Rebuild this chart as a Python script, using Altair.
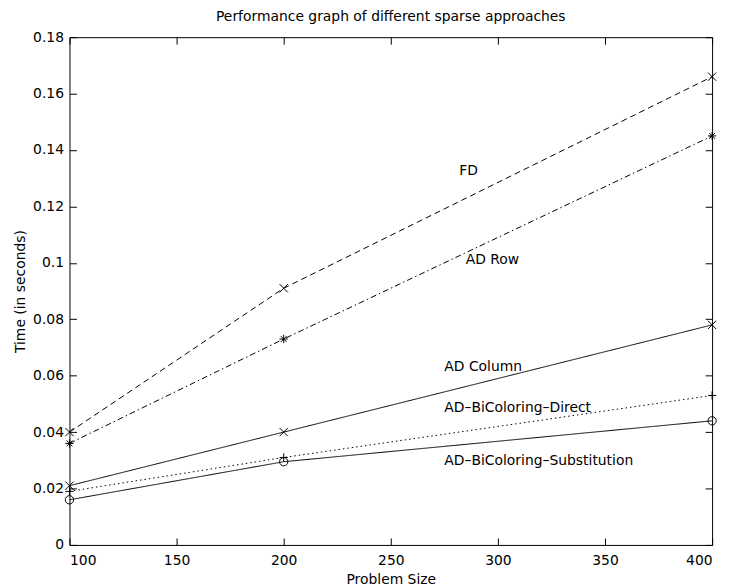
import altair as alt
import pandas as pd

# ---- data ----
sizes = [100, 200, 400]
series_names = ["FD", "AD Row", "AD Column", "AD-BiColoring-Direct", "AD-BiColoring-Substitution"]
fd = [0.040, 0.091, 0.166]
ad_row = [0.036, 0.073, 0.145]
ad_col = [0.021, 0.040, 0.078]
bic_direct = [0.019, 0.031, 0.053]
bic_subst = [0.016, 0.0295, 0.044]

label_texts = ["FD", "AD Row", "AD Column", "AD\u2013BiColoring\u2013Direct", "AD\u2013BiColoring\u2013Substitution"]
label_x = [282, 285, 275, 275, 275]
label_y = [0.1325, 0.101, 0.063, 0.0485, 0.0299]

x_ticks = [100, 150, 200, 250, 300, 350, 400]
y_ticks = [0, 0.02, 0.04, 0.06, 0.08, 0.10, 0.12, 0.14, 0.16, 0.18]

dashes = [[6, 4], [6, 3, 1.5, 3], [1, 0], [1.5, 3], [1, 0]]
shapes = [
    "M-1,-1L1,1M-1,1L1,-1",
    "M-1,0L1,0M0,-1L0,1M-0.7,-0.7L0.7,0.7M-0.7,0.7L0.7,-0.7",
    "M-1,-1L1,1M-1,1L1,-1",
    "M-1,0L1,0M0,-1L0,1",
    "circle",
]

rows = []
for name, vals in zip(series_names, [fd, ad_row, ad_col, bic_direct, bic_subst]):
    for s, v in zip(sizes, vals):
        rows.append({"series": name, "size": s, "time": v})
df = pd.DataFrame(rows)
labels_df = pd.DataFrame({"text": label_texts, "size": label_x, "time": label_y})

W, H = 648, 512
FONT = "DejaVu Sans"

xscale = alt.Scale(domain=[100, 400], nice=False, zero=False)
yscale = alt.Scale(domain=[0, 0.18], nice=False, zero=True)

common = dict(labelFont=FONT, labelFontSize=14, labelColor="black",
              titleFont=FONT, titleFontSize=14, titleFontWeight="normal", titleColor="black",
              tickColor="black", tickWidth=1, domain=False, grid=False, zindex=2)

# axes carrying labels and titles (no ticks)
x_main = alt.Axis(orient="bottom", values=x_ticks, ticks=False,
                  labelPadding=9, title="Problem Size", titlePadding=5, **common)
y_main = alt.Axis(orient="left", values=y_ticks, ticks=False,
                  format="~g", labelPadding=6, title="Time (in seconds)", titlePadding=5, **common)
# inward ticks on bottom / left edges
x_in_bottom = alt.Axis(orient="top", offset=-H, values=x_ticks, labels=False,
                       tickSize=7, title="", **common)
y_in_left = alt.Axis(orient="right", offset=-W, values=y_ticks, labels=False,
                     tickSize=7, title="", **common)
# inward ticks on top / right edges
x_in_top = alt.Axis(orient="bottom", offset=-H, values=x_ticks, labels=False,
                    tickSize=7, title="", **common)
y_in_right = alt.Axis(orient="left", offset=-W, values=y_ticks, labels=False,
                      tickSize=7, title="", **common)

lines = alt.Chart(df).mark_line(color="black", strokeWidth=1).encode(
    x=alt.X("size:Q", scale=xscale, axis=x_main),
    y=alt.Y("time:Q", scale=yscale, axis=y_main),
    strokeDash=alt.StrokeDash("series:N", scale=alt.Scale(domain=series_names, range=dashes), legend=None),
    detail="series:N",
)

points = alt.Chart(df).mark_point(color="black", filled=False, strokeWidth=1, opacity=1).encode(
    x=alt.X("size:Q", scale=xscale, axis=x_in_bottom),
    y=alt.Y("time:Q", scale=yscale, axis=y_in_left),
    shape=alt.Shape("series:N", scale=alt.Scale(domain=series_names, range=shapes), legend=None),
    size=alt.value(70),
)

texts = alt.Chart(labels_df).mark_text(align="left", baseline="middle", font=FONT,
                                        fontSize=14, color="black").encode(
    x=alt.X("size:Q", scale=xscale, axis=x_in_top),
    y=alt.Y("time:Q", scale=yscale, axis=y_in_right),
    text="text:N",
)

chart = alt.layer(lines, points, texts).resolve_axis(
    x="independent", y="independent"
).properties(
    width=W, height=H, background="white",
    padding={"left": 5, "right": 5, "top": 0, "bottom": 0},
    title=alt.TitleParams("Performance graph of different sparse approaches",
                          font=FONT, fontSize=14, fontWeight="normal", color="black", offset=6),
).configure_view(
    stroke="black", strokeWidth=1
)

chart.save("out.html", embed_options={"renderer": "svg", "actions": False})
